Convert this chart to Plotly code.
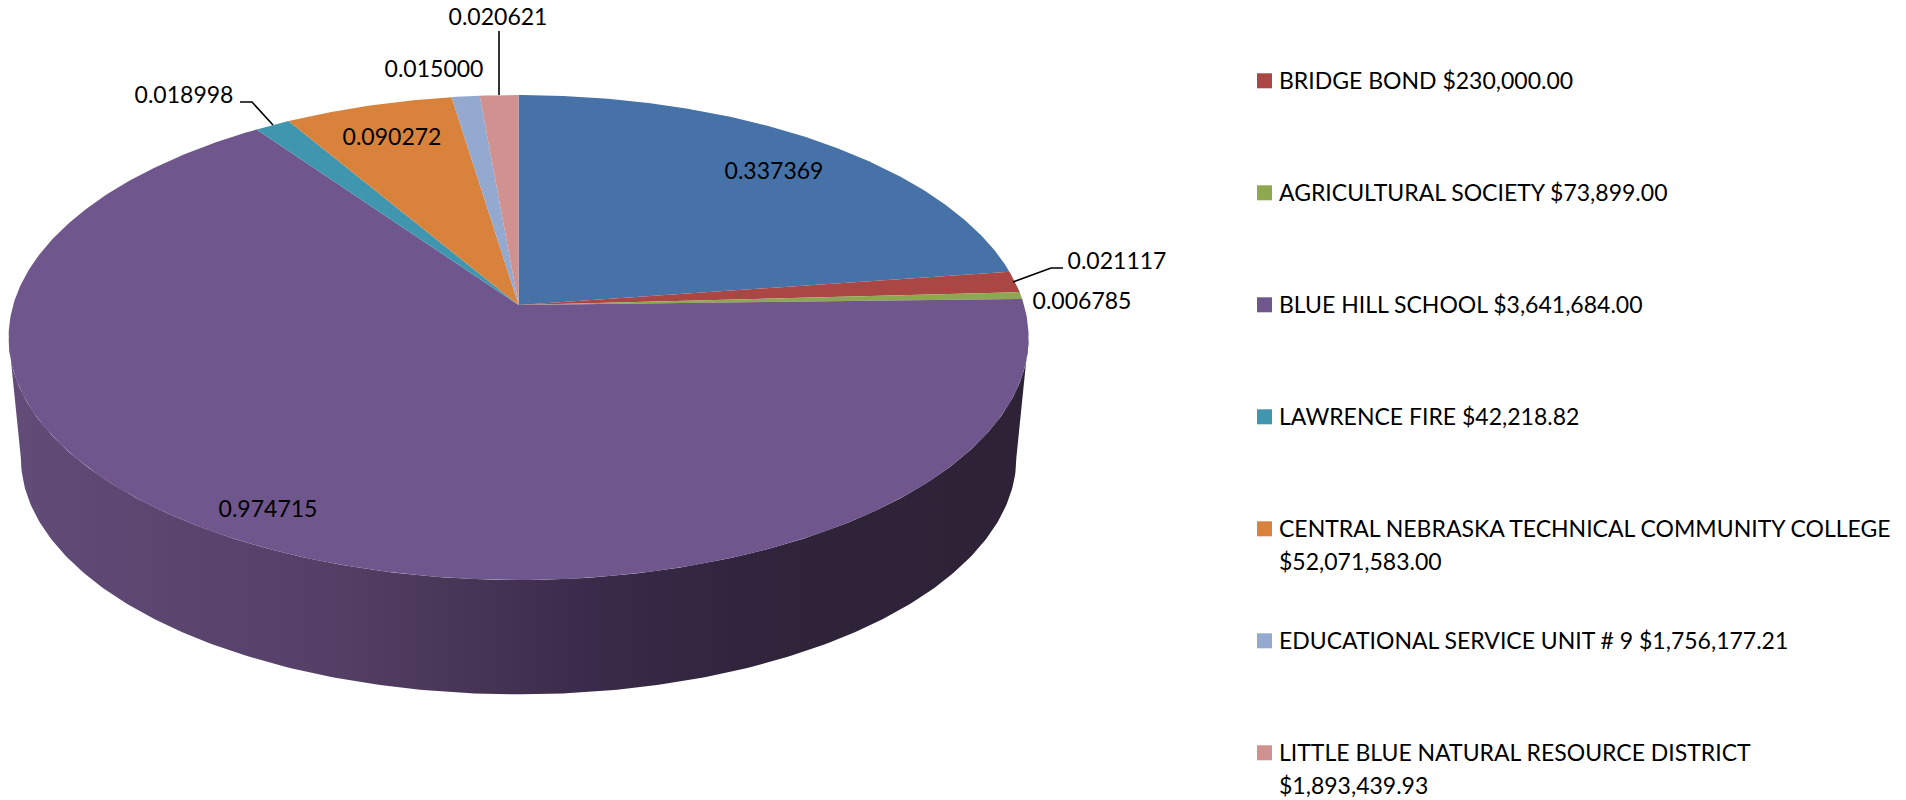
import numpy as np
import plotly.graph_objects as go

# ---- data ----
slice_values = [0.337369, 0.021117, 0.006785, 0.974715, 0.018998, 0.090272, 0.015000, 0.020621]
slice_labels = ["0.337369", "0.021117", "0.006785", "0.974715", "0.018998", "0.090272", "0.015000", "0.020621"]
legend_names = [
    "BRIDGE BOND $230,000.00",
    "AGRICULTURAL SOCIETY $73,899.00",
    "BLUE HILL SCHOOL $3,641,684.00",
    "LAWRENCE FIRE $42,218.82",
    "CENTRAL NEBRASKA TECHNICAL COMMUNITY COLLEGE<br>$52,071,583.00",
    "EDUCATIONAL SERVICE UNIT # 9 $1,756,177.21",
    "LITTLE BLUE NATURAL RESOURCE DISTRICT<br>$1,893,439.93",
]

# ---- styles and layout (page pixels) ----
slice_colors = ["#4672A7", "#AA4643", "#8DA84F", "#6F568C", "#3F96AE", "#D9823C", "#93A9CF", "#CF9291"]
FONT = "Lato"
LABEL_SIZE = 23
LEGEND_SIZE = 23

APEX_X, APEX_Y = 518.6, 305.0
K = 0.134       # perspective strength
A = 505.4       # horizontal radius term
B = 238.1       # vertical radius term
WALL_SCALE = 0.976
WALL_APEX_Y = 426.0

label_anchor = [(774, 173), (1117, 263), (1082, 303), (268, 511), (184, 97), (392, 139), (434, 71), (498, 19)]
leaders = [
    ([240, 252, 273], [102, 102, 125]),
    ([499, 499], [31, 95]),
    ([1063, 1051, 1013], [268, 268, 282]),
]
LEGEND_MARK_X = 1264.5
LEGEND_TEXT_X = 1276.6
LEGEND_FIRST_Y = 80.3
LEGEND_MARK_Y_SHIFT = 0.5
LEGEND_STEP = 112
LEGEND_LINE = 32.5


def rim(theta, scale=1.0, apex_y=APEX_Y):
    """Project points of the tilted circle; theta runs clockwise from the top."""
    u, v = np.sin(theta), np.cos(theta)
    d = 1 + K * v
    return APEX_X + scale * A * u / d, apex_y - scale * B * v / d


fig = go.Figure()

# side wall, behind the top face
side_theta = np.radians(np.linspace(90 + np.degrees(np.arcsin(K)), 270 - np.degrees(np.arcsin(K)), 240))
low_x, low_y = rim(side_theta, WALL_SCALE, WALL_APEX_Y)
top_x, top_y = rim(side_theta[::-1])
fig.add_trace(go.Scatter(
    x=np.r_[low_x, top_x], y=np.r_[low_y, top_y],
    mode="lines", line=dict(width=0), fill="toself", hoverinfo="skip", showlegend=False,
    fillcolor="#4a3858",
    fillgradient=dict(type="horizontal", colorscale=[
        [0.00, "#624C78"], [0.15, "#5B4670"], [0.30, "#564068"], [0.42, "#4A3859"],
        [0.55, "#3D2C4C"], [0.68, "#322640"], [0.80, "#2E2338"], [1.00, "#2D2236"],
    ]),
))

# top face, one wedge per value
fractions = np.array(slice_values) / sum(slice_values)
edges = np.r_[0, np.cumsum(fractions)] * 2 * np.pi
for i, color in enumerate(slice_colors):
    t = np.linspace(edges[i], edges[i + 1], max(4, int((edges[i + 1] - edges[i]) * 120)))
    rx, ry = rim(t)
    fig.add_trace(go.Scatter(
        x=np.r_[APEX_X, rx, APEX_X], y=np.r_[APEX_Y, ry, APEX_Y],
        mode="lines", line=dict(width=0, color=color), fill="toself", fillcolor=color,
        name=slice_labels[i], showlegend=False, hoverinfo="name",
    ))

# leader lines
for lx, ly in leaders:
    fig.add_trace(go.Scatter(x=lx, y=ly, mode="lines", line=dict(color="#000000", width=1.6),
                             hoverinfo="skip", showlegend=False))

# value labels
fig.add_trace(go.Scatter(
    x=[p[0] for p in label_anchor], y=[p[1] for p in label_anchor],
    mode="text", text=slice_labels, textposition="middle center",
    textfont=dict(family=FONT, size=LABEL_SIZE, color="#000000"),
    hoverinfo="skip", showlegend=False,
))

# legend
rows = [LEGEND_FIRST_Y + i * LEGEND_STEP for i in range(len(legend_names))]
fig.add_trace(go.Scatter(
    x=[LEGEND_MARK_X] * len(rows), y=[r + LEGEND_MARK_Y_SHIFT for r in rows], mode="markers",
    marker=dict(symbol="square", size=15, color=slice_colors[1:], line=dict(width=0)),
    hoverinfo="skip", showlegend=False,
))
for row, name in zip(rows, legend_names):
    for j, line in enumerate(name.split("<br>")):
        fig.add_annotation(x=LEGEND_TEXT_X, y=row + j * LEGEND_LINE, text=line, showarrow=False,
                           xanchor="left", yanchor="middle", align="left",
                           font=dict(family=FONT, size=LEGEND_SIZE, color="#000000"))

fig.update_layout(
    width=1906, height=800, margin=dict(l=0, r=0, t=0, b=0),
    paper_bgcolor="#FFFFFF", plot_bgcolor="#FFFFFF", showlegend=False,
    xaxis=dict(range=[0, 1906], visible=False, fixedrange=True),
    yaxis=dict(range=[800, 0], visible=False, fixedrange=True),
)
fig.write_html("out.html", config=dict(displayModeBar=False),
               post_script="document.body.style.margin='0';document.body.style.overflow='hidden';")
